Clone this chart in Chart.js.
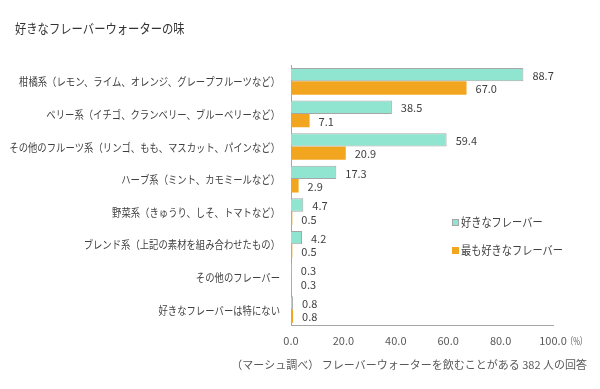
<!DOCTYPE html>
<html>
<head>
<meta charset="utf-8">
<script src="https://cdn.jsdelivr.net/npm/chart.js@4"></script>
<style>
  html, body { margin: 0; padding: 0; background: #fff; }
  #wrap { width: 600px; height: 389px; }
</style>
</head>
<body>
<div id="wrap"><canvas id="grafico" width="600" height="389"></canvas></div>
<script>
const categorias = [
  "柑橘系（レモン、ライム、オレンジ、グレープフルーツなど）",
  "ベリー系（イチゴ、クランベリー、ブルーベリーなど）",
  "その他のフルーツ系（リンゴ、もも、マスカット、パインなど）",
  "ハーブ系（ミント、カモミールなど）",
  "野菜系（きゅうり、しそ、トマトなど）",
  "ブレンド系（上記の素材を組み合わせたもの）",
  "その他のフレーバー",
  "好きなフレーバーは特にない"
];
const seriesNames = ["好きなフレーバー", "最も好きなフレーバー"];
const suki = [88.7, 38.5, 59.4, 17.3, 4.7, 4.2, 0.3, 0.8];
const mottomo = [67.0, 7.1, 20.9, 2.9, 0.5, 0.5, 0.3, 0.8];
const xTicks = [0, 20, 40, 60, 80, 100];
const titulo = "好きなフレーバーウォーターの味";
const fonteNota = "（マーシュ調べ） フレーバーウォーターを飲むことがある 382 人の回答";

const fonte = '"Noto Sans CJK JP", "Noto Sans", sans-serif';
const cores = ["#8fe5d0", "#f2a61f"];

// the reference font is narrower than Noto CJK, so squeeze text a bit
function texto(ctx, s, x, y, align, sx) {
  ctx.save();
  ctx.translate(x, y);
  ctx.scale(sx, 1);
  ctx.textAlign = align;
  ctx.fillText(s, 0, 0);
  ctx.restore();
}

const extras = {
  id: "extras",
  afterDraw(chart) {
    const ctx = chart.ctx;
    const ys = chart.scales.y, xs = chart.scales.x;
    ctx.save();
    ctx.textBaseline = "middle";

    // title
    ctx.font = "13px " + fonte;
    ctx.fillStyle = "#333";
    texto(ctx, titulo, 15, 28, "left", 0.87);

    // category labels
    ctx.font = "11px " + fonte;
    ctx.fillStyle = "#404040";
    chart.data.labels.forEach((lab, i) => {
      texto(ctx, lab, 280, ys.getPixelForTick(i) + 1, "right", 0.85);
    });

    // values at bar ends
    chart.data.datasets.forEach((ds, i) => {
      chart.getDatasetMeta(i).data.forEach((bar, j) => {
        ctx.textAlign = "left";
        ctx.fillText(ds.data[j].toFixed(1), bar.x + 9, bar.y + 1);
      });
    });

    // legend
    ctx.font = "12px " + fonte;
    const lx = 452, ly = [222, 250];
    chart.data.datasets.forEach((ds, i) => {
      ctx.fillStyle = ds.backgroundColor;
      ctx.fillRect(lx, ly[i] - 3, 7, 7);
      if (i === 0) {
        ctx.strokeStyle = "#a6a6a6";
        ctx.lineWidth = 1;
        ctx.strokeRect(lx + 0.5, ly[i] - 2.5, 6, 6);
      }
      ctx.fillStyle = "#404040";
      texto(ctx, ds.label, lx + 9, ly[i], "left", 0.85);
    });

    // unit after the last tick
    ctx.font = "10px " + fonte;
    ctx.fillStyle = "#595959";
    texto(ctx, "（%）", xs.getPixelForValue(100) + 13, xs.top + 15, "left", 0.72);

    // source note
    ctx.font = "11px " + fonte;
    texto(ctx, fonteNota, 587, 365, "right", 1.0);
    ctx.restore();
  }
};

new Chart(document.getElementById("grafico").getContext("2d"), {
  type: "bar",
  data: {
    labels: categorias,
    datasets: [
      { label: seriesNames[0], data: suki, backgroundColor: cores[0], borderColor: "#a6a6a6", borderWidth: 1 },
      { label: seriesNames[1], data: mottomo, backgroundColor: cores[1], borderWidth: 0 }
    ]
  },
  options: {
    indexAxis: "y",
    responsive: false,
    animation: false,
    layout: { padding: { left: 15, right: 47, top: 65, bottom: 42 } },
    datasets: { bar: { categoryPercentage: 0.82, barPercentage: 1.0 } },
    scales: {
      x: {
        min: 0, max: 100,
        afterBuildTicks: s => { s.ticks = xTicks.map(v => ({ value: v })); },
        grid: { display: false },
        border: { display: true, color: "#a6a6a6" },
        ticks: {
          padding: 0,
          color: "#595959",
          font: { family: fonte, size: 11 },
          callback: v => v.toFixed(1)
        }
      },
      y: {
        afterFit: s => { s.width = 276; },
        grid: { display: false },
        border: { display: true, color: "#a6a6a6" },
        ticks: { display: false }
      }
    },
    plugins: {
      legend: { display: false },
      tooltip: { enabled: false },
      title: { display: false }
    }
  },
  plugins: [extras]
});
</script>
</body>
</html>
